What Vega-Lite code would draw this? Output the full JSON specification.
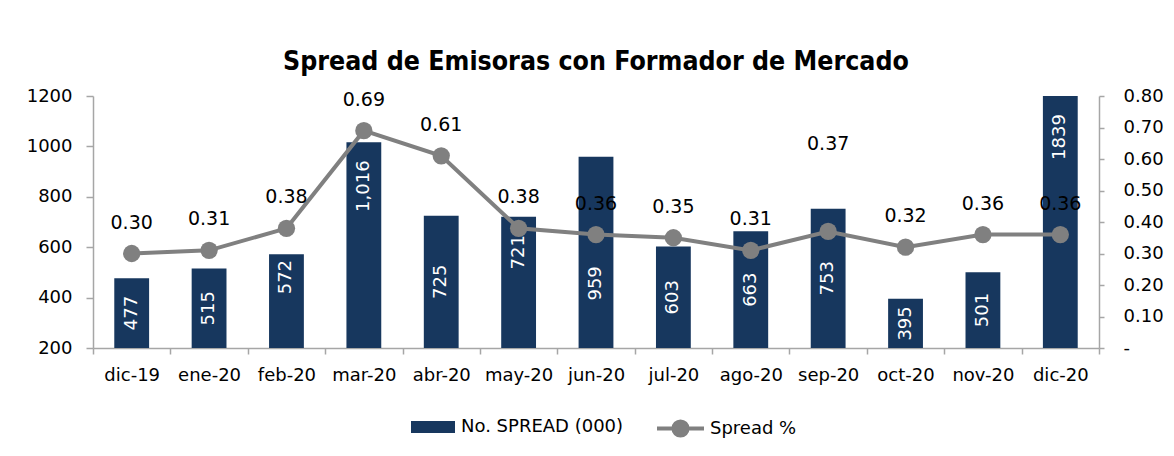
{
  "$schema": "https://vega.github.io/schema/vega-lite/v6.json",
  "width": 1006,
  "height": 252,
  "autosize": {"type": "none"},
  "padding": {"left": 93, "top": 96, "right": 75, "bottom": 108},
  "background": "white",
  "title": {
    "text": "Spread de Emisoras con Formador de Mercado",
    "font": "DejaVu Sans Condensed",
    "fontWeight": "bold",
    "fontSize": 26.5,
    "color": "#000000",
    "anchor": "middle",
    "frame": "group",
    "offset": 12
  },
  "config": {
    "view": {"stroke": null},
    "font": "DejaVu Sans",
    "axis": {
      "labelFont": "DejaVu Sans",
      "labelFontSize": 18,
      "labelColor": "#000000",
      "domainColor": "#a6a6a6",
      "tickColor": "#a6a6a6",
      "domainWidth": 1.5,
      "tickWidth": 1.5,
      "grid": false,
      "labelOverlap": false
    },
    "legend": {
      "labelFont": "DejaVu Sans",
      "labelFontSize": 18,
      "labelColor": "#000000",
      "labelLimit": 400,
      "padding": 0
    }
  },
  "data": {
    "values": [
      {"mes": "dic-19", "n": 477, "p": 0.30},
      {"mes": "ene-20", "n": 515, "p": 0.31},
      {"mes": "feb-20", "n": 572, "p": 0.38},
      {"mes": "mar-20", "n": 1016, "p": 0.69},
      {"mes": "abr-20", "n": 725, "p": 0.61},
      {"mes": "may-20", "n": 721, "p": 0.38},
      {"mes": "jun-20", "n": 959, "p": 0.36},
      {"mes": "jul-20", "n": 603, "p": 0.35},
      {"mes": "ago-20", "n": 663, "p": 0.31},
      {"mes": "sep-20", "n": 753, "p": 0.37},
      {"mes": "oct-20", "n": 395, "p": 0.32},
      {"mes": "nov-20", "n": 501, "p": 0.36},
      {"mes": "dic-20", "n": 1839, "p": 0.36}
    ]
  },
  "encoding": {
    "x": {
      "field": "mes",
      "type": "nominal",
      "sort": null,
      "title": null,
      "scale": {"paddingInner": 0, "paddingOuter": 0},
      "axis": {"labelAngle": 0, "tickBand": "extent", "tickSize": 6, "labelPadding": 12}
    }
  },
  "layer": [
    {
      "encoding": {
        "y": {
          "field": "n",
          "type": "quantitative",
          "title": null,
          "scale": {"domain": [200, 1200], "nice": false, "zero": false, "clamp": true},
          "axis": {"orient": "left", "values": [200, 400, 600, 800, 1000, 1200], "format": "d", "tickSize": 7, "labelPadding": 14}
        }
      },
      "layer": [
        {
          "mark": {"type": "bar", "width": {"band": 0.45}},
          "encoding": {
            "y2": {"datum": 200},
            "fill": {
              "datum": "No. SPREAD (000)",
              "scale": {"range": ["#17375e"]},
              "legend": {
                "title": null,
                "orient": "none",
                "legendX": 318,
                "legendY": 309,
                "symbolType": "M-1,-0.27H1V0.27H-1Z",
                "symbolSize": 1936,
                "symbolStrokeWidth": 0,
                "labelOffset": 6
              }
            }
          }
        },
        {
          "transform": [
            {"filter": "indexof(['feb-20','mar-20','may-20','jun-20','dic-20'], datum.mes) < 0"},
            {"calculate": "(min(datum.n, 1200) + 200) / 2", "as": "mid"}
          ],
          "mark": {"type": "text", "angle": 270, "align": "center", "baseline": "middle", "color": "#ffffff", "fontSize": 18, "font": "DejaVu Sans"},
          "encoding": {
            "y": {"field": "mid", "type": "quantitative", "title": null},
            "text": {"field": "n", "format": ","}
          }
        },
        {
          "transform": [
            {"filter": "datum.mes === 'feb-20'"},
            {"calculate": "(min(datum.n, 1200) + 200) / 2", "as": "mid"}
          ],
          "mark": {"type": "text", "angle": 270, "align": "center", "baseline": "middle", "color": "#ffffff", "fontSize": 18, "font": "DejaVu Sans", "dx": 24},
          "encoding": {
            "y": {"field": "mid", "type": "quantitative", "title": null},
            "text": {"field": "n", "format": ","}
          }
        },
        {
          "transform": [
            {"filter": "datum.mes === 'mar-20'"},
            {"calculate": "(min(datum.n, 1200) + 200) / 2", "as": "mid"}
          ],
          "mark": {"type": "text", "angle": 270, "align": "center", "baseline": "middle", "color": "#ffffff", "fontSize": 18, "font": "DejaVu Sans", "dx": 59},
          "encoding": {
            "y": {"field": "mid", "type": "quantitative", "title": null},
            "text": {"field": "n", "format": ","}
          }
        },
        {
          "transform": [
            {"filter": "datum.mes === 'may-20'"},
            {"calculate": "(min(datum.n, 1200) + 200) / 2", "as": "mid"}
          ],
          "mark": {"type": "text", "angle": 270, "align": "center", "baseline": "middle", "color": "#ffffff", "fontSize": 18, "font": "DejaVu Sans", "dx": 30},
          "encoding": {
            "y": {"field": "mid", "type": "quantitative", "title": null},
            "text": {"field": "n", "format": ","}
          }
        },
        {
          "transform": [
            {"filter": "datum.mes === 'jun-20'"},
            {"calculate": "(min(datum.n, 1200) + 200) / 2", "as": "mid"}
          ],
          "mark": {"type": "text", "angle": 270, "align": "center", "baseline": "middle", "color": "#ffffff", "fontSize": 18, "font": "DejaVu Sans", "dx": -31},
          "encoding": {
            "y": {"field": "mid", "type": "quantitative", "title": null},
            "text": {"field": "n", "format": ","}
          }
        },
        {
          "transform": [
            {"filter": "datum.mes === 'dic-20'"},
            {"calculate": "(min(datum.n, 1200) + 200) / 2", "as": "mid"}
          ],
          "mark": {"type": "text", "angle": 270, "align": "center", "baseline": "middle", "color": "#ffffff", "fontSize": 18, "font": "DejaVu Sans", "dx": 85},
          "encoding": {
            "y": {"field": "mid", "type": "quantitative", "title": null},
            "text": {"field": "n", "format": "d"}
          }
        }
      ]
    },
    {
      "encoding": {
        "y": {
          "field": "p",
          "type": "quantitative",
          "title": null,
          "scale": {"domain": [0, 0.8], "nice": false},
          "axis": {
            "orient": "right",
            "values": [0, 0.1, 0.2, 0.3, 0.4, 0.5, 0.6, 0.7, 0.8],
            "labelExpr": "datum.value == 0 ? '-' : format(datum.value, '.2f')",
            "tickSize": 5,
            "labelPadding": 19
          }
        }
      },
      "layer": [
        {
          "mark": {"type": "line", "color": "#808080", "strokeWidth": 4},
          "encoding": {
            "stroke": {
              "datum": "Spread %",
              "scale": {"range": ["#808080"]},
              "legend": {
                "title": null,
                "orient": "none",
                "legendX": 562,
                "legendY": 307,
                "symbolType": "M-1,0H1M0.3,0A0.3,0.3,0,1,1,-0.3,0A0.3,0.3,0,1,1,0.3,0Z",
                "symbolSize": 2209,
                "symbolStrokeWidth": 4,
                "symbolFillColor": "#808080",
                "labelOffset": 4
              }
            }
          }
        },
        {
          "mark": {"type": "point", "filled": true, "size": 300, "color": "#808080", "opacity": 1}
        },
        {
          "transform": [{"filter": "datum.mes !== 'sep-20'"}],
          "mark": {"type": "text", "dy": -31, "fontSize": 19, "color": "#000000", "font": "DejaVu Sans", "baseline": "middle"},
          "encoding": {
            "text": {"field": "p", "type": "quantitative", "format": ".2f"}
          }
        },
        {
          "transform": [{"filter": "datum.mes === 'sep-20'"}],
          "mark": {"type": "text", "dy": -87, "fontSize": 19, "color": "#000000", "font": "DejaVu Sans", "baseline": "middle"},
          "encoding": {
            "text": {"field": "p", "type": "quantitative", "format": ".2f"}
          }
        }
      ]
    }
  ],
  "resolve": {"scale": {"y": "independent"}}
}
